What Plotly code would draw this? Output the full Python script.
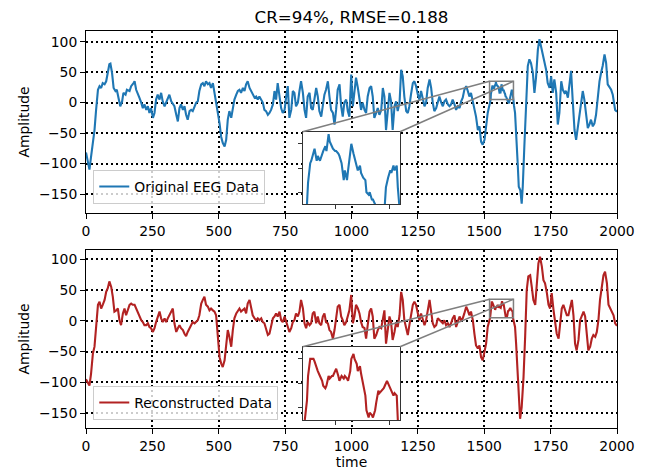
import plotly.graph_objects as go

# values (sample index, amplitude)
t_orig = [0, 13, 19, 26, 32, 38, 45, 51, 57, 63, 70, 76, 82, 88, 92, 98, 104, 111, 116, 124,
          129, 136, 141, 149, 154, 164, 170, 179, 183, 189, 195, 201, 208, 214, 220, 227, 233, 239, 245, 252,
          258, 264, 270, 277, 283, 289, 296, 302, 308, 314, 321, 327, 333, 340, 346, 352, 358, 365, 371, 377,
          383, 390, 396, 402, 409, 415, 421, 427, 434, 440, 446, 452, 459, 465, 471, 478, 484, 490, 496, 503,
          509, 515, 522, 528, 534, 540, 547, 553, 559, 566, 572, 578, 584, 591, 597, 603, 609, 616, 622, 628,
          635, 641, 647, 653, 660, 666, 672, 678, 685, 691, 697, 704, 710, 716, 722, 729, 735, 741, 748, 754,
          760, 766, 773, 779, 785, 791, 798, 804, 810, 817, 823, 829, 835, 842, 848, 854, 860, 867, 873, 879,
          886, 892, 898, 904, 911, 917, 923, 930, 936, 942, 948, 955, 961, 967, 973, 980, 986, 992, 999, 1005,
          1011, 1017, 1024, 1030, 1036, 1042, 1049, 1055, 1061, 1068, 1074, 1080, 1086, 1093, 1099, 1105, 1112, 1118, 1124, 1130,
          1137, 1143, 1149, 1155, 1162, 1168, 1174, 1181, 1187, 1193, 1199, 1206, 1212, 1218, 1224, 1231, 1237, 1243, 1250, 1256,
          1262, 1268, 1275, 1281, 1287, 1294, 1300, 1306, 1312, 1319, 1325, 1331, 1338, 1344, 1350, 1356, 1363, 1369, 1375, 1381,
          1388, 1394, 1400, 1407, 1413, 1419, 1425, 1432, 1438, 1444, 1450, 1457, 1463, 1469, 1476, 1482, 1488, 1494, 1501, 1507,
          1513, 1520, 1524, 1525, 1527, 1528, 1530, 1531, 1533, 1534, 1536, 1538, 1539, 1541, 1542, 1544, 1545, 1547, 1548, 1550,
          1551, 1553, 1554, 1556, 1558, 1559, 1561, 1562, 1564, 1565, 1567, 1568, 1570, 1571, 1573, 1574, 1576, 1578, 1579, 1581,
          1582, 1584, 1585, 1587, 1590, 1593, 1596, 1597, 1599, 1601, 1602, 1604, 1605, 1607, 1608, 1609, 1612, 1616, 1620, 1626,
          1630, 1636, 1641, 1645, 1651, 1658, 1664, 1670, 1676, 1683, 1689, 1695, 1702, 1708, 1714, 1720, 1727, 1733, 1739, 1746,
          1752, 1758, 1764, 1771, 1777, 1783, 1790, 1796, 1802, 1808, 1815, 1821, 1827, 1833, 1840, 1846, 1852, 1859, 1865, 1871,
          1877, 1884, 1890, 1896, 1902, 1909, 1915, 1921, 1928, 1934, 1940, 1946, 1953, 1959, 1965, 1972, 1978, 1984, 1993, 2000]
eeg_orig = [-82, -110, -89, -67, -45, -12, 21, 27, 24, 32, 30, 35, 49, 63, 64, 49, 24, 19, 21, 2,
            -6, 2, 16, 13, 21, 19, 27, 32, 35, 21, 13, 8, 0, -9, -3, -12, -6, -17, -9, -25,
            -17, 5, 13, 5, 16, 2, -6, 0, 8, 13, 2, -3, -6, -20, -31, -9, -3, -12, -6, -20,
            -28, -14, -12, -14, -6, 0, 2, 19, 30, 32, 27, 35, 30, 32, 24, 32, 16, 2, -12, -34,
            -56, -66, -72, -61, -28, -14, -25, -6, 5, 13, 19, 21, 16, 24, 19, 30, 35, 24, 19, 16,
            8, 10, 5, 10, 5, 0, -12, -14, -20, -17, -12, -3, 19, 5, 32, 10, -9, -17, -12, 10,
            27, -25, -12, 19, 16, -6, 0, 19, 35, 16, -12, -25, 10, 16, -9, -12, 8, 24, 10, -14,
            -23, 0, 13, 21, 35, 10, -12, -17, -36, -12, 21, 30, -6, -23, 0, 5, -14, -23, 46, -6,
            16, 41, 24, 2, -12, 0, -12, -17, 10, 24, 27, 10, -25, -17, -9, -20, -12, 24, 10, -45,
            -12, 16, 2, -45, -6, 2, -14, 0, 54, 43, 10, -14, -17, -6, 13, 32, 35, 27, 13, 5,
            19, 8, -6, 0, 24, 38, 24, 0, -14, -9, 2, 10, 0, -6, 2, 5, -3, -6, -3, 5,
            -3, -12, -6, -9, 2, 8, 21, 27, 19, 10, 16, 2, -6, -23, -45, -39, -64, -69, -61, -34,
            -17, -3, 5, 14, 22, 23, 27, 28, 23, 25, 23, 26, 27, 29, 27, 34, 31, 29, 28, 27,
            27, 26, 25, 22, 15, 19, 15, 19, 26, 30, 26, 24, 21, 19, 21, 18, 16, 15, 10, 9,
            10, 7, 7, 5, 1, -1, 5, 12, 16, 19, 18, 21, 19, 21, 12, 5, -5, -17, -45, -100,
            -138, -144, -166, -138, -72, -6, 60, 71, 65, 49, 16, 41, 87, 104, 93, 79, 65, 54, 32, 24,
            43, 16, 38, 16, -36, -17, 35, 21, 16, 19, 8, 27, 52, 5, -45, -61, -42, -14, 2, 19,
            5, -17, -42, -36, -28, -39, -34, -20, 10, 35, 49, 60, 79, 65, 30, 24, 21, 13, -12, -15]

t_rec = [0, 13, 19, 26, 32, 38, 45, 51, 57, 63, 70, 76, 82, 88, 95, 101, 107, 114, 120, 126,
         132, 139, 145, 151, 158, 164, 170, 176, 183, 189, 195, 201, 208, 214, 220, 227, 233, 239, 245, 252,
         258, 264, 270, 277, 283, 289, 296, 302, 308, 314, 321, 327, 333, 340, 346, 352, 358, 365, 371, 377,
         383, 390, 396, 402, 409, 415, 421, 427, 434, 440, 446, 452, 459, 465, 471, 478, 484, 490, 496, 503,
         509, 515, 522, 528, 534, 540, 547, 553, 559, 566, 572, 578, 584, 591, 597, 603, 609, 616, 622, 628,
         635, 641, 647, 653, 660, 666, 672, 678, 685, 691, 697, 704, 710, 716, 722, 729, 735, 741, 748, 754,
         760, 766, 773, 779, 785, 791, 798, 804, 810, 817, 823, 829, 835, 842, 848, 854, 860, 867, 873, 879,
         886, 892, 898, 904, 911, 917, 923, 930, 936, 942, 948, 955, 961, 967, 973, 980, 986, 992, 999, 1005,
         1011, 1017, 1024, 1030, 1036, 1042, 1049, 1055, 1061, 1068, 1074, 1080, 1086, 1093, 1099, 1105, 1112, 1118, 1124, 1130,
         1137, 1143, 1149, 1155, 1162, 1168, 1174, 1181, 1187, 1193, 1199, 1206, 1212, 1218, 1224, 1231, 1237, 1243, 1250, 1256,
         1262, 1268, 1275, 1281, 1287, 1294, 1300, 1306, 1312, 1319, 1325, 1331, 1338, 1344, 1350, 1356, 1363, 1369, 1375, 1381,
         1388, 1394, 1400, 1407, 1413, 1419, 1425, 1432, 1438, 1444, 1450, 1457, 1463, 1469, 1476, 1482, 1488, 1494, 1501, 1507,
         1513, 1518, 1522, 1524, 1525, 1527, 1528, 1530, 1531, 1533, 1534, 1536, 1538, 1539, 1541, 1542, 1544, 1545, 1547, 1548,
         1550, 1551, 1553, 1554, 1556, 1558, 1559, 1561, 1562, 1564, 1565, 1567, 1568, 1570, 1571, 1573, 1574, 1576, 1578, 1579,
         1581, 1582, 1584, 1585, 1587, 1588, 1590, 1591, 1593, 1595, 1596, 1598, 1599, 1601, 1602, 1604, 1605, 1607, 1608, 1612,
         1616, 1620, 1626, 1630, 1635, 1641, 1648, 1654, 1660, 1666, 1673, 1679, 1685, 1692, 1698, 1704, 1710, 1717, 1723, 1729,
         1736, 1742, 1748, 1754, 1761, 1767, 1773, 1780, 1786, 1792, 1798, 1805, 1811, 1817, 1823, 1830, 1836, 1842, 1848, 1855,
         1861, 1867, 1874, 1880, 1886, 1892, 1899, 1905, 1911, 1918, 1924, 1930, 1936, 1943, 1949, 1955, 1962, 1968, 1974, 1980,
         1987, 1993, 2000]
eeg_rec = [-95, -105, -86, -53, -42, -4, 26, 31, 20, 26, 34, 47, 53, 64, 55, 39, 15, 17, 20, 1,
           -7, 12, 20, 9, 20, 26, 28, 26, 26, 20, 17, 9, 1, -2, -7, -7, -4, -10, -12, -18,
           -12, -2, 7, 15, 4, -2, 4, -2, 4, 9, 17, 20, -4, -18, -12, -7, -12, -15, -21, -25,
           -18, -12, -7, -2, -4, -2, 1, 9, 28, 34, 39, 26, 23, 17, 20, 17, 15, 9, -21, -59,
           -69, -75, -64, -37, -15, -26, -42, -15, 4, 12, 17, 20, 15, 17, 20, 12, 28, 34, 20, 9,
           4, 1, 4, 1, 4, -2, -4, -15, -23, -21, -10, 4, 7, 12, 7, 15, 1, -2, 7, -2,
           -7, -18, -12, -2, 1, 12, 7, 15, 34, 20, -4, -12, -2, -7, -4, 12, 15, -4, 7, -4,
           -7, 7, 12, -2, -4, -15, -18, -29, -15, 4, 23, 26, 7, 1, -7, -2, 7, 17, 42, -4,
           7, 26, 20, 12, -2, -10, -12, -29, -7, 15, 20, 7, -29, -23, -15, -10, -12, 7, 17, -37,
           -12, 7, -2, -31, -18, -2, -10, 9, 47, 34, 1, -15, -23, -7, 9, 26, 31, 26, 12, 1,
           12, 1, -7, 1, 17, 34, 15, -4, -10, -7, 4, 1, -2, -4, 1, -7, -4, -10, -4, 4,
           9, -10, -2, 7, 1, 4, 12, 23, 17, 9, 15, 1, -21, -40, -45, -40, -59, -64, -50, -37,
           -10, -2, 5, 13, 23, 30, 30, 30, 29, 26, 25, 23, 21, 19, 18, 19, 23, 22, 23, 23,
           25, 26, 23, 21, 23, 22, 23, 22, 21, 25, 30, 32, 30, 28, 25, 27, 24, 19, 15, 9,
           6, 8, 7, 6, 9, 12, 17, 16, 17, 18, 19, 21, 20, 18, 17, 15, 16, 15, 5, -2,
           -10, -37, -86, -124, -159, -140, -91, -26, 50, 72, 74, 55, 34, 26, 61, 93, 104, 88, 66, 61,
           45, 26, 20, 45, 17, -2, -21, -29, -7, 20, 26, 17, 9, 9, 23, 34, 9, -37, -48, -31,
           1, 9, 15, 7, -18, -48, -42, -29, -23, -26, -18, 1, 34, 55, 74, 80, 61, 26, 20, 17,
           9, -4, -8]

x_ticks = [0, 250, 500, 750, 1000, 1250, 1500, 1750, 2000]
y_ticks = [100, 50, 0, -50, -100, -150]
zoom_x = [1520, 1610]
zoom_y = [5, 35]
inset_xticks = [1550, 1600]
inset_yticks = [10, 20, 30]

BLUE = '#1f77b4'
RED = '#b22222'
GREY = '#7f7f7f'
FONT = 'DejaVu Sans'

x_range = [0, 2000]
top_range = [-181, 117.5]
bot_range = [-174, 115]
top_dom = [0.5418, 1.0]
bot_dom = [0.0, 0.4484]
inset_xdom = [0.408, 0.5913]
top_inset_dom = [0.5635, 0.7463]
bot_inset_dom = [0.0202, 0.2048]

LW = 2.1

fig = go.Figure()
fig.add_trace(go.Scatter(x=t_orig, y=eeg_orig, mode='lines', name='Original EEG Data',
                         line=dict(color=BLUE, width=LW), xaxis='x', yaxis='y', legend='legend'))
fig.add_trace(go.Scatter(x=t_rec, y=eeg_rec, mode='lines', name='Reconstructed Data',
                         line=dict(color=RED, width=LW), xaxis='x2', yaxis='y2', legend='legend2'))
fig.add_trace(go.Scatter(x=t_orig, y=eeg_orig, mode='lines', showlegend=False,
                         line=dict(color=BLUE, width=LW), xaxis='x3', yaxis='y3'))
fig.add_trace(go.Scatter(x=t_rec, y=eeg_rec, mode='lines', showlegend=False,
                         line=dict(color=RED, width=LW), xaxis='x4', yaxis='y4'))

tick_font = dict(family=FONT, size=13.9, color='black')
label_font = dict(family=FONT, size=13.9, color='black')
main_axis = dict(showline=True, linecolor='black', linewidth=1, mirror=True,
                 ticks='outside', ticklen=5, tickwidth=1, tickcolor='black',
                 showgrid=True, gridcolor='black', gridwidth=2, griddash='2px,3px',
                 zeroline=False, tickfont=tick_font, automargin=False)
inset_axis = dict(showline=True, linecolor='#333333', linewidth=1, mirror=True,
                  ticks='outside', ticklen=4, tickwidth=1, tickcolor='#333333',
                  showticklabels=False, showgrid=False, zeroline=False, automargin=False)

fig.update_layout(
    xaxis=dict(main_axis, domain=[0, 1], range=x_range, tickvals=x_ticks, anchor='y'),
    yaxis=dict(main_axis, domain=top_dom, range=top_range, tickvals=y_ticks, anchor='x',
               title=dict(text='Amplitude', font=label_font, standoff=6)),
    xaxis2=dict(main_axis, domain=[0, 1], range=x_range, tickvals=x_ticks, anchor='y2',
                title=dict(text='time', font=label_font, standoff=4)),
    yaxis2=dict(main_axis, domain=bot_dom, range=bot_range, tickvals=y_ticks, anchor='x2',
                title=dict(text='Amplitude', font=label_font, standoff=6)),
    xaxis3=dict(inset_axis, domain=inset_xdom, range=zoom_x, tickvals=inset_xticks, anchor='y3'),
    yaxis3=dict(inset_axis, domain=top_inset_dom, range=zoom_y, tickvals=inset_yticks, anchor='x3'),
    xaxis4=dict(inset_axis, domain=inset_xdom, range=zoom_x, tickvals=inset_xticks, anchor='y4'),
    yaxis4=dict(inset_axis, domain=bot_inset_dom, range=zoom_y, tickvals=inset_yticks, anchor='x4'),
)


def corner(px, py, ydom, yr):
    # paper fraction -> data coords of the main axes
    x = x_range[0] + px * (x_range[1] - x_range[0])
    y = yr[0] + (py - ydom[0]) / (ydom[1] - ydom[0]) * (yr[1] - yr[0])
    return x, y


shapes = []
for xr, yr_ref, ydom, yr, idom, inset in [('x', 'y', top_dom, top_range, top_inset_dom, ('x3', 'y3')),
                                           ('x2', 'y2', bot_dom, bot_range, bot_inset_dom, ('x4', 'y4'))]:
    # white background behind the inset
    shapes.append(dict(type='rect', xref=inset[0], yref=inset[1], x0=zoom_x[0], x1=zoom_x[1],
                       y0=zoom_y[0], y1=zoom_y[1], fillcolor='white', line=dict(width=0), layer='below'))
    # zoom window on the main axes
    shapes.append(dict(type='rect', xref=xr, yref=yr_ref, x0=zoom_x[0], x1=zoom_x[1],
                       y0=zoom_y[0], y1=zoom_y[1], line=dict(color=GREY, width=1.5), layer='above'))
    lx, ty = corner(inset_xdom[0], idom[1], ydom, yr)
    rx, _ = corner(inset_xdom[1], idom[1], ydom, yr)
    shapes.append(dict(type='line', xref=xr, yref=yr_ref, x0=lx, y0=ty, x1=zoom_x[0], y1=zoom_y[1],
                       line=dict(color=GREY, width=1.5), layer='above'))
    shapes.append(dict(type='line', xref=xr, yref=yr_ref, x0=rx, y0=ty, x1=zoom_x[1], y1=zoom_y[1],
                       line=dict(color=GREY, width=1.5), layer='above'))

legend_style = dict(xanchor='left', yanchor='bottom', bgcolor='rgba(255,255,255,0.8)',
                    bordercolor='#cccccc', borderwidth=1, font=label_font)

# the page body adds an 8 px offset, so the figure is 8 px smaller on each side
fig.update_layout(
    width=639, height=467,
    margin=dict(l=78, r=30, t=23, b=47, autoexpand=False),
    paper_bgcolor='white', plot_bgcolor='white',
    font=dict(family=FONT, color='black'),
    title=dict(text='CR=94%, RMSE=0.188', x=0.5, xref='paper', xanchor='center',
               y=0.9797, yref='container', yanchor='middle',
               font=dict(family=FONT, size=16.7, color='black')),
    legend=dict(legend_style, x=0.0137, y=0.5642),
    legend2=dict(legend_style, x=0.0137, y=0.0202),
    shapes=shapes,
)

fig.write_html("out.html")
